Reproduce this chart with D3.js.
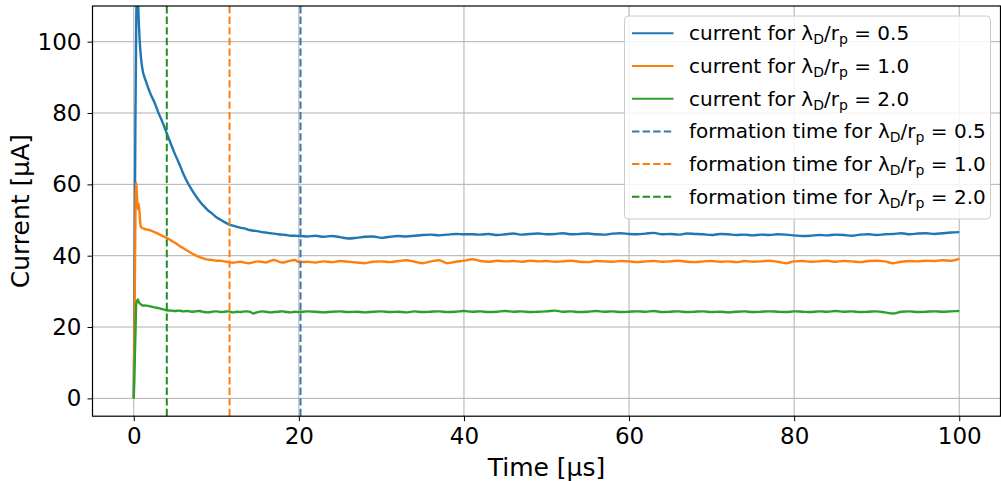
<!DOCTYPE html>
<html><head><meta charset="utf-8">
<script src="https://cdn.jsdelivr.net/npm/d3@7"></script>
<style>
html,body{margin:0;padding:0;background:#fff;}
svg{display:block;font-family:"DejaVu Sans",sans-serif;}
</style></head>
<body><svg id="c" width="1001" height="481"></svg>
<script>
const times = [0,0.1,0.2,0.3,0.4,0.5,0.6,0.7,0.8,0.9,1.0,
1.5,2,2.5,3,3.5,4,4.5,5,5.5,6,6.5,7,7.5,8,8.5,9,9.5,10,10.5,11,11.5,12,12.5,13,13.5,14,14.5,15,15.5,16,16.5,17,17.5,18,18.5,19,19.5,20,
21,22,23,24,25,26,27,28,29,30,31,32,33,34,35,36,37,38,39,40,
41,42,43,44,45,46,47,48,49,50,51,52,53,54,55,56,57,58,59,60,
61,62,63,64,65,66,67,68,69,70,71,72,73,74,75,76,77,78,79,80,
81,82,83,84,85,86,87,88,89,90,91,92,93,94,95,96,97,98,99,100];

const current05 = [0,38,78,106,118,113,106,101,97.5,95,93,
88.7,85.5,83.0,80.0,77.3,74.3,71.3,68.4,65.8,63.0,
60.6,58.6,56.8,55.2,53.9,52.7,51.8,50.8,50.1,49.4,
48.8,48.4,48.1,47.8,47.6,47.2,47.0,46.9,46.6,46.5,
46.3,46.2,46.0,45.9,45.8,45.6,45.6,45.5,
45.4,45.6,45.3,45.5,45.2,44.8,45.0,45.3,45.4,45.0,
45.3,45.5,45.4,45.6,45.8,45.9,45.7,45.9,46.1,46.0,
46.0,45.9,46.1,45.8,46.0,46.2,45.9,46.1,46.2,46.0,
46.1,46.3,46.0,46.1,46.2,46.0,45.9,46.2,46.3,46.1,
46.0,46.2,46.4,46.0,46.1,45.9,46.2,46.1,46.0,45.8,
46.1,46.0,45.8,45.9,45.7,45.9,45.8,46.0,45.9,45.7,
45.5,45.6,45.8,45.7,45.9,45.8,45.6,45.9,46.0,45.8,
46.0,46.1,46.3,46.0,46.2,46.3,46.1,46.3,46.5,46.6];

const current10 = [0,24,50,60.5,56,53,54.6,52,48.8,48.0,47.8,
47.4,47.1,46.6,46.1,45.5,45.0,44.3,43.6,42.8,42.1,
41.4,40.7,40.1,39.6,39.2,38.9,38.8,38.6,38.6,38.4,
38.2,38.0,38.2,38.3,38.0,37.9,38.2,38.4,38.3,38.1,
38.5,38.8,38.4,38.1,38.3,38.6,38.8,38.2,
38.3,38.1,38.4,38.2,38.5,38.3,38.1,37.9,38.3,38.4,
38.2,38.5,38.7,38.3,37.9,38.4,38.7,37.9,38.3,38.6,
39.0,38.5,38.3,38.6,38.4,38.5,38.3,38.6,38.4,38.5,
38.3,38.4,38.6,38.3,38.2,38.5,38.4,38.3,38.5,38.4,
38.2,38.4,38.5,38.3,38.4,38.6,38.3,38.2,38.4,38.5,
38.3,38.4,38.2,38.5,38.3,38.4,38.6,38.3,37.9,38.4,
38.5,38.3,38.4,38.6,38.3,38.5,38.4,38.2,38.5,38.6,
38.4,37.9,38.3,38.5,38.4,38.6,38.5,38.7,38.6,39.1];

const current20 = [0,9,18,26.5,27.3,27.7,27.0,26.7,26.5,26.3,26.1,
26.0,25.8,25.5,25.3,25.0,24.7,24.6,24.5,24.6,24.4,
24.5,24.3,24.4,24.5,24.2,24.1,24.3,24.4,24.2,24.3,
24.4,24.1,24.3,24.2,24.4,24.3,23.8,24.2,24.4,24.3,
24.1,24.2,24.3,24.4,24.2,24.1,24.3,24.2,
24.4,24.3,24.1,24.3,24.4,24.2,24.3,24.1,24.3,24.4,
24.2,24.3,24.1,24.4,24.2,24.3,24.4,24.2,24.3,24.5,
24.3,24.4,24.2,24.3,24.5,24.3,24.4,24.2,24.3,24.4,
24.6,24.3,24.4,24.2,24.3,24.5,24.3,24.4,24.2,24.3,
24.4,24.3,24.5,24.2,24.3,24.4,24.2,24.3,24.4,24.2,
24.3,24.1,24.3,24.4,24.2,24.3,24.4,24.3,24.2,24.4,
24.3,24.2,24.4,24.3,24.5,24.3,24.4,24.2,24.3,24.4,
24.1,23.8,24.3,24.4,24.2,24.3,24.4,24.3,24.4,24.5];

const ratios = ["0.5","1.0","2.0"];
const formationTimes = [20.2, 11.6, 4.0];
const xTicks = [0,20,40,60,80,100];
const yTicks = [0,20,40,60,80,100];
const xDomain = [-5,105];
const yDomain = [-5,110];

const lineColors = ["#1f77b4","#ff7f0e","#2ca02c"];
const dashColors = ["#3a76b0","#ff7f0e","#228b22"];
const seriesVals = [current05, current10, current20];

const svg = d3.select("#c");
const L = 92.5, R = 1000.5, T = 6, B = 416.2;
const x = d3.scaleLinear().domain(xDomain).range([L,R]);
const y = d3.scaleLinear().domain(yDomain).range([B,T]);

svg.append("rect").attr("width",1001).attr("height",481).attr("fill","#fff");

svg.append("defs").append("clipPath").attr("id","clip")
  .append("rect").attr("x",L).attr("y",T).attr("width",R-L).attr("height",B-T);

// grid
const grid = svg.append("g");
grid.selectAll(".gx").data(xTicks).join("line")
  .attr("x1",d=>x(d)).attr("x2",d=>x(d)).attr("y1",T).attr("y2",B)
  .attr("stroke","#b0b0b0").attr("stroke-width",1);
grid.selectAll(".gy").data(yTicks).join("line")
  .attr("y1",d=>y(d)).attr("y2",d=>y(d)).attr("x1",L).attr("x2",R)
  .attr("stroke","#b0b0b0").attr("stroke-width",1);

const plot = svg.append("g").attr("clip-path","url(#clip)");
const line = d3.line().x((d,i)=>x(times[i])).y(d=>y(d)).curve(d3.curveMonotoneX);
seriesVals.forEach((vals,k)=>{
  plot.append("path").datum(vals).attr("d",line)
    .attr("fill","none").attr("stroke",lineColors[k]).attr("stroke-width",2.4)
    .attr("stroke-linejoin","round");
});
formationTimes.forEach((t,k)=>{
  plot.append("line").attr("x1",x(t)).attr("x2",x(t)).attr("y1",T).attr("y2",B)
    .attr("stroke",dashColors[k]).attr("stroke-width",2).attr("stroke-dasharray","7.4,3.2");
});

// axes
const ax = svg.append("g").attr("transform",`translate(0,${B})`)
  .call(d3.axisBottom(x).tickValues(xTicks).tickSize(5).tickPadding(6).tickSizeOuter(0));
const ay = svg.append("g").attr("transform",`translate(${L},0)`)
  .call(d3.axisLeft(y).tickValues(yTicks).tickSize(5).tickPadding(6).tickSizeOuter(0));
[ax,ay].forEach(a=>{
  a.select(".domain").remove();
  a.selectAll("line").attr("stroke","#000").attr("stroke-width",1);
  a.selectAll("text").attr("font-family","DejaVu Sans").attr("font-size",23).attr("fill","#000");
});
// frame
svg.append("rect").attr("x",L).attr("y",T).attr("width",R-L).attr("height",B-T)
  .attr("fill","none").attr("stroke","#000").attr("stroke-width",1.2);

svg.append("text").attr("x",(L+R)/2).attr("y",476).attr("text-anchor","middle")
  .attr("font-size",25).attr("fill","#000").text("Time [μs]");
svg.append("text").attr("transform",`translate(29,${(T+B)/2}) rotate(-90)`)
  .attr("text-anchor","middle").attr("font-size",25).attr("fill","#000").text("Current [μA]");

// legend
const lg = svg.append("g");
lg.append("rect").attr("x",624.5).attr("y",16).attr("width",366).attr("height",203)
  .attr("rx",4).attr("fill","#fff").attr("fill-opacity",0.85)
  .attr("stroke","#cccccc").attr("stroke-width",1);
const entries = [];
ratios.forEach((r,k)=>entries.push({pre:"current for ",r,color:lineColors[k],dash:null}));
ratios.forEach((r,k)=>entries.push({pre:"formation time for ",r,color:dashColors[k],dash:"7.4,3.2"}));
entries.forEach((e,i)=>{
  const cy = 33.3 + i*32.7;
  lg.append("line").attr("x1",632).attr("x2",673.5).attr("y1",cy).attr("y2",cy)
    .attr("stroke",e.color).attr("stroke-width",2).attr("stroke-dasharray",e.dash);
  const t = lg.append("text").attr("x",689).attr("y",cy+7).attr("font-size",20).attr("fill","#000");
  t.append("tspan").text(e.pre+"λ");
  t.append("tspan").attr("font-size",14).attr("dy",4).text("D");
  t.append("tspan").attr("dy",-4).text("/r");
  t.append("tspan").attr("font-size",14).attr("dy",4).text("p");
  t.append("tspan").attr("dy",-4).text(" = "+e.r);
});
</script></body></html>
